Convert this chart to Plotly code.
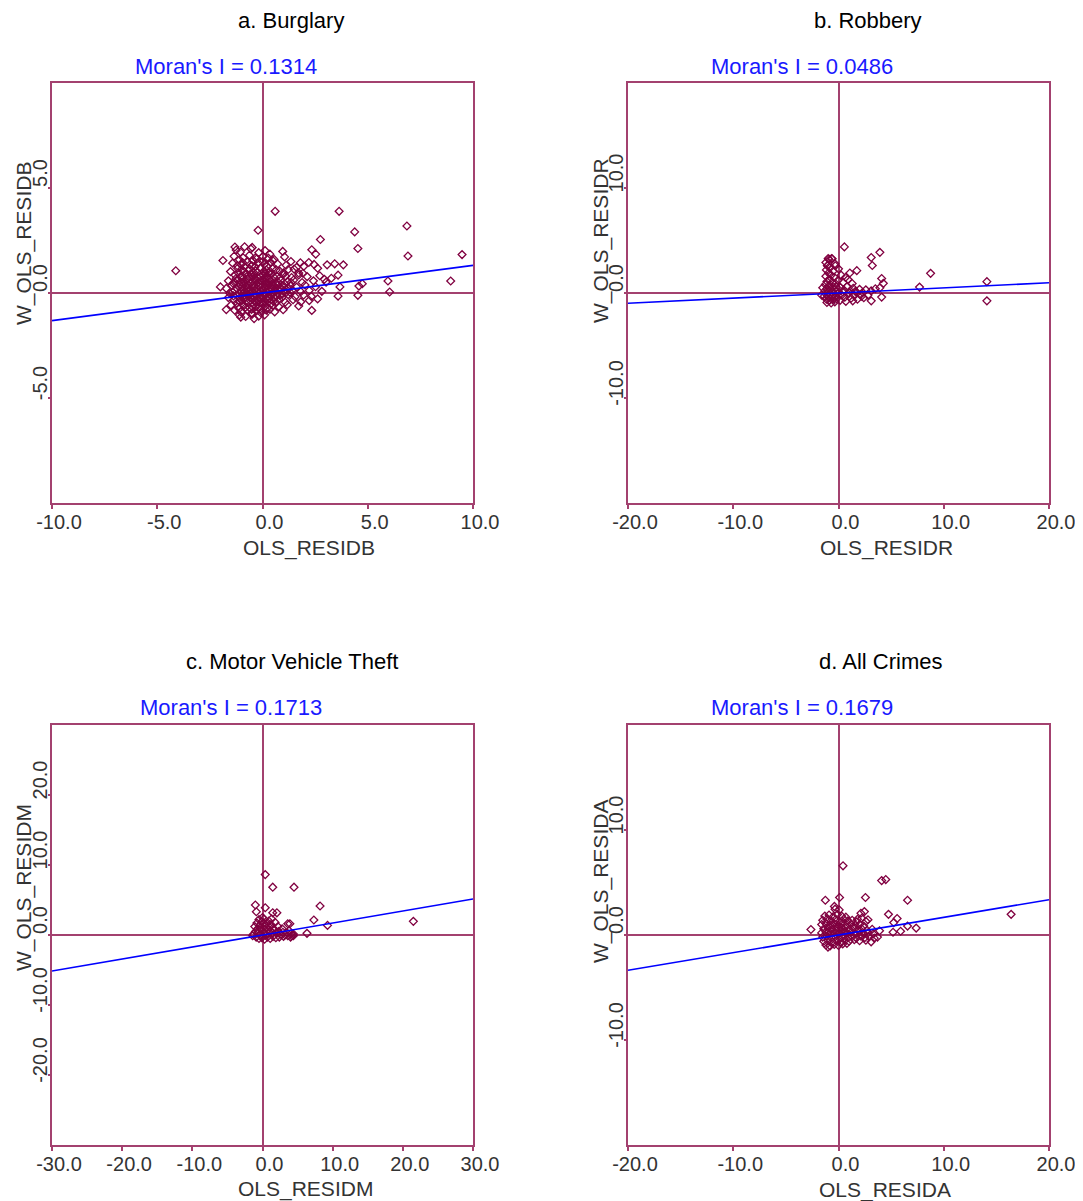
import plotly.graph_objects as go

# ---------------- data ----------------
panel_titles = ["a. Burglary", "b. Robbery", "c. Motor Vehicle Theft", "d. All Crimes"]
x_titles = ["OLS_RESIDB", "OLS_RESIDR", "OLS_RESIDM", "OLS_RESIDA"]
y_titles = ["W_OLS_RESIDB", "W_OLS_RESIDR", "W_OLS_RESIDM", "W_OLS_RESIDA"]
morans_i = [0.1314, 0.0486, 0.1713, 0.1679]
axis_limits = [10, 20, 30, 20]
x_tickvals = [[-10, -5, 0, 5, 10], [-20, -10, 0, 10, 20],
              [-30, -20, -10, 0, 10, 20, 30], [-20, -10, 0, 10, 20]]
y_tickvals = [[-5, 0, 5], [-10, 0, 10], [-20, -10, 0, 10, 20], [-10, 0, 10]]

burglary_pts = [
    # outliers
    (-4.12, 1.06), (0.60, 3.89), (3.64, 3.89), (-0.21, 2.99), (6.86, 3.19), (4.38, 2.91),
    (2.75, 2.55), (4.53, 2.12), (6.91, 1.76), (9.48, 1.83), (8.94, 0.57), (5.96, 0.57),
    (6.04, 0.05), (4.74, 0.44), (4.58, 0.33), (3.84, 1.34), (3.43, 1.39), (3.07, 1.34),
    (2.45, 1.36), (2.53, 1.85), (2.34, 2.06), (0.96, 1.98), (-1.88, 1.55), (-2.00, 0.29),
    (-1.31, 2.19), (-0.49, 2.17), (3.59, 0.85), (3.27, 0.70), (2.94, 0.65), (3.68, 0.29),
    (3.59, -0.15), (4.53, -0.11), (1.50, 1.14), (1.80, 1.44), (1.96, 1.27), (1.72, 0.95),
    (0.49, 1.55), (-0.33, 1.68), (2.34, -0.83), (-1.03, -1.15), (-1.72, -0.79),
    # cluster
    (-1.25, 2.05), (-1.05, 1.95), (-0.55, 2.10), (-0.18, 1.92), (0.12, 2.02), (-0.85, 2.20), (0.35, 1.85),
    (-1.35, 1.75), (-0.92, 1.68), (-0.62, 1.80), (-0.28, 1.62), (0.02, 1.74), (0.28, 1.66), (1.05, 1.72),
    (-1.10, 1.58), (-0.45, 1.55), (0.55, 1.60), (1.35, 1.50),
    (-1.42, 1.42), (-1.02, 1.35), (-0.72, 1.48), (-0.50, 1.30), (-0.22, 1.44), (0.08, 1.36), (0.38, 1.46),
    (0.72, 1.38), (1.12, 1.32), (2.20, 1.45), (-0.85, 1.25), (0.22, 1.28),
    (-1.18, 1.18), (-0.95, 1.08), (-0.62, 1.15), (-0.32, 1.05), (-0.08, 1.20), (0.18, 1.10), (0.48, 1.16),
    (0.82, 1.04), (1.22, 1.12), (1.62, 1.22), (2.62, 1.18), (-1.52, 1.02), (-0.42, 0.98), (0.30, 0.95), (1.00, 0.96),
    (-1.30, 0.85), (-1.05, 0.78), (-0.82, 0.90), (-0.62, 0.74), (-0.40, 0.86), (-0.20, 0.72), (0.02, 0.84),
    (0.22, 0.76), (0.42, 0.90), (0.68, 0.80), (0.98, 0.88), (1.38, 0.74), (1.72, 0.86), (2.12, 0.78),
    (2.72, 0.82), (1.92, 0.94), (-0.95, 0.66), (0.12, 0.92),
    (-1.62, 0.58), (-1.22, 0.62), (-1.00, 0.50), (-0.78, 0.60), (-0.58, 0.48), (-0.38, 0.62), (-0.18, 0.52),
    (0.00, 0.64), (0.20, 0.50), (0.40, 0.58), (0.60, 0.46), (0.88, 0.60), (1.18, 0.54), (1.48, 0.62),
    (1.88, 0.50), (2.42, 0.58), (3.02, 0.52), (-1.40, 0.46), (-0.68, 0.40),
    (-1.45, 0.36), (-1.12, 0.30), (-0.88, 0.40), (-0.68, 0.26), (-0.48, 0.36), (-0.28, 0.24), (-0.08, 0.38),
    (0.12, 0.28), (0.32, 0.40), (0.52, 0.30), (0.72, 0.38), (1.02, 0.26), (1.32, 0.36), (1.62, 0.28),
    (2.02, 0.38), (2.52, 0.30), (-1.72, 0.22), (-0.95, 0.18), (0.25, 0.18), (0.85, 0.20),
    (-1.32, 0.12), (-1.02, 0.06), (-0.78, 0.16), (-0.58, 0.02), (-0.38, 0.12), (-0.18, 0.00), (0.02, 0.14),
    (0.22, 0.04), (0.42, 0.16), (0.62, 0.06), (0.82, 0.12), (1.12, 0.02), (1.42, 0.14), (1.82, 0.06),
    (2.22, 0.12), (2.82, 0.08), (-1.55, -0.02), (0.95, -0.04),
    (-1.22, -0.10), (-0.92, -0.16), (-0.72, -0.06), (-0.52, -0.20), (-0.32, -0.08), (-0.12, -0.18),
    (0.08, -0.06), (0.28, -0.16), (0.48, -0.04), (0.68, -0.14), (0.92, -0.20), (1.22, -0.08),
    (1.55, -0.18), (1.95, -0.10), (2.32, -0.16), (-1.62, -0.22),
    (-1.35, -0.32), (-1.08, -0.42), (-0.88, -0.28), (-0.68, -0.46), (-0.48, -0.30), (-0.28, -0.44),
    (-0.08, -0.30), (0.12, -0.42), (0.32, -0.28), (0.52, -0.40), (0.78, -0.30), (1.08, -0.44),
    (1.45, -0.32), (1.82, -0.42), (2.22, -0.36), (2.62, -0.28), (-0.60, -0.22),
    (-1.50, -0.58), (-1.18, -0.66), (-0.92, -0.54), (-0.62, -0.70), (-0.42, -0.56), (-0.20, -0.68),
    (0.00, -0.54), (0.22, -0.72), (0.48, -0.60), (0.78, -0.66), (1.18, -0.56), (1.72, -0.62),
    (-1.32, -0.82), (-1.02, -0.90), (-0.72, -0.80), (-0.50, -0.96), (-0.28, -0.84), (-0.08, -0.94),
    (0.18, -0.82), (0.58, -0.90), (0.98, -0.80),
    (-1.10, -1.05), (-0.80, -1.12), (-0.50, -1.02), (-0.18, -1.10), (0.10, -1.04), (-0.40, -1.22),
    # dense core
    (-1.15, 0.95), (-0.88, 1.02), (-0.55, 0.92), (-0.25, 0.98), (0.05, 1.02), (0.35, 1.04), (0.65, 1.10),
    (-1.25, 0.70), (-0.98, 0.82), (-0.72, 0.68), (-0.48, 0.76), (-0.30, 0.64), (-0.10, 0.78), (0.10, 0.70),
    (0.32, 0.66), (0.55, 0.74), (0.80, 0.70), (1.10, 0.80),
    (-1.30, 0.48), (-1.08, 0.40), (-0.88, 0.52), (-0.48, 0.54), (-0.28, 0.44), (-0.08, 0.58), (0.10, 0.44),
    (0.30, 0.52), (0.50, 0.40), (0.75, 0.50), (1.05, 0.44), (1.35, 0.50),
    (-1.20, 0.20), (-0.98, 0.28), (-0.78, 0.32), (-0.58, 0.20), (-0.38, 0.30), (-0.18, 0.34), (0.02, 0.22),
    (0.18, 0.36), (0.42, 0.24), (0.62, 0.22), (0.92, 0.34), (1.22, 0.20),
    (-1.42, 0.04), (-1.12, -0.02), (-0.88, 0.00), (-0.68, 0.10), (-0.48, 0.06), (-0.28, 0.10), (-0.08, 0.04),
    (0.12, -0.02), (0.32, 0.10), (0.52, 0.02), (0.72, -0.02), (1.02, 0.10), (1.30, 0.04),
    (-1.38, -0.14), (-1.08, -0.22), (-0.82, -0.20), (-0.62, -0.12), (-0.42, -0.18), (-0.22, -0.26),
    (-0.02, -0.20), (0.18, -0.24), (0.38, -0.12), (0.58, -0.22), (0.82, -0.10),
    (-1.22, -0.48), (-0.98, -0.36), (-0.78, -0.40), (-0.58, -0.36), (-0.38, -0.40), (-0.18, -0.36),
    (0.02, -0.44), (0.22, -0.34), (0.42, -0.50), (0.65, -0.46),
    (-1.10, -0.74), (-0.80, -0.68), (-0.52, -0.78), (-0.32, -0.66), (-0.10, -0.76), (0.10, -0.64), (0.35, -0.78),
    (-0.95, 1.45), (-0.60, 1.35), (-0.35, 1.25), (0.00, 1.50), (-1.20, 1.30),
]

robbery_pts = [
    # outliers
    (0.56, 4.39), (3.93, 3.87), (3.11, 3.38), (3.21, 2.62), (1.74, 2.13), (1.08, 1.90),
    (8.75, 1.87), (14.1, 1.08), (14.1, -0.75), (7.70, 0.56), (4.10, 1.38), (4.26, 0.92),
    (3.93, 0.49), (3.11, -0.75), (4.10, -0.39), (-0.33, 2.79), (-0.98, 3.28), (-0.66, 3.28),
    (-1.05, 2.62), (0.66, 1.48),
    # cluster
    (-1.20, 2.90), (-0.90, 3.20), (-0.60, 3.25), (-1.05, 2.60), (-0.80, 2.40), (-1.15, 2.20),
    (-0.50, 2.10), (-0.95, 1.90), (-0.70, 1.70), (-1.20, 1.60), (-0.40, 1.50), (-0.85, 1.30),
    (-1.10, 1.10), (-0.60, 1.00), (-0.30, 0.90), (-1.25, 0.80), (-0.90, 0.70), (-0.50, 0.60),
    (-0.20, 0.55), (-1.10, 0.40), (-0.75, 0.35), (-0.40, 0.30), (-1.30, 0.20), (-0.95, 0.10),
    (-0.60, 0.05), (-0.25, 0.15), (-1.20, -0.10), (-0.80, -0.15), (-0.45, -0.10), (-0.10, -0.05),
    (-1.35, -0.30), (-1.00, -0.35), (-0.65, -0.40), (-0.30, -0.30), (-1.15, -0.60), (-0.85, -0.70),
    (-0.50, -0.60), (-0.20, -0.55), (-1.10, -0.90), (-0.70, -0.95), (-0.35, -0.85), (-1.60, -0.20),
    (-1.50, 0.50), (-0.05, 1.20), (0.00, 2.30), (-0.30, 2.60),
    (0.20, 0.50), (0.50, 0.30), (0.80, 0.60), (1.10, 0.20), (1.40, 0.45), (1.70, 0.10), (2.00, 0.35),
    (2.30, 0.05), (2.60, 0.30), (0.30, -0.20), (0.60, -0.40), (0.90, -0.10), (1.20, -0.50),
    (1.50, -0.25), (1.80, -0.60), (2.10, -0.15), (2.40, -0.45), (2.80, -0.20), (0.40, 0.10),
    (1.00, 0.00), (1.60, 0.15), (2.20, -0.30), (3.10, 0.20), (0.15, -0.70), (0.70, -0.80),
    (1.35, -0.75), (3.50, 0.40), (0.45, 1.00), (0.90, 1.30), (1.30, 0.90), (0.25, 1.70),
]

mvt_pts = [
    # outliers
    (0.39, 8.63), (1.46, 6.83), (4.49, 6.83), (-1.02, 4.29), (0.39, 3.90), (-0.88, 3.32),
    (1.46, 3.17), (2.05, 3.17), (8.20, 4.15), (7.32, 2.15), (21.5, 1.95), (9.27, 1.37),
    (3.90, 1.61), (6.34, 0.24), (4.40, 0.15), (4.15, -0.15),
    # cluster
    (-1.30, 0.10), (-1.00, 0.50), (-0.70, 0.90), (-0.40, 1.40), (-0.10, 1.90), (0.20, 2.30),
    (-0.50, 2.20), (0.00, 2.50), (-0.80, 1.70), (-1.10, 1.20), (-0.20, 0.80), (0.30, 1.20),
    (0.60, 1.60), (0.90, 2.00), (1.20, 1.50), (1.50, 1.00), (1.80, 1.80), (0.50, 0.50),
    (0.80, 0.20), (1.10, 0.60), (1.40, 0.30), (1.70, 0.70), (2.00, 0.20), (2.30, 0.50),
    (2.60, 0.10), (2.90, 0.40), (3.20, 0.00), (3.50, 0.30), (3.80, 0.60), (4.10, 0.20),
    (4.40, -0.10), (-0.90, -0.30), (-0.50, -0.50), (-0.10, -0.40), (0.30, -0.60), (0.70, -0.30),
    (1.10, -0.50), (1.50, -0.20), (1.90, -0.40), (2.40, -0.30), (3.00, -0.20), (3.60, -0.10),
    (4.00, -0.30), (-0.60, 0.30), (-0.30, 0.00), (0.10, 0.30), (0.40, 0.00), (-1.40, -0.10),
    (0.00, -0.20), (0.60, 1.00), (0.20, 1.70), (-0.30, 1.00), (1.00, 1.10), (2.20, 1.20),
    (1.30, 2.30), (3.60, 1.60), (2.80, 0.90),
]

allcrime_pts = [
    # outliers
    (0.43, 6.59), (4.10, 5.18), (4.49, 5.28), (2.56, 3.57), (6.56, 3.31), (0.10, 3.57),
    (-1.25, 3.31), (-0.39, 2.72), (-0.33, 2.46), (0.07, 2.39), (2.46, 2.23), (2.13, 2.07),
    (4.75, 1.97), (16.4, 1.97), (5.57, 1.57), (5.25, 1.18), (6.56, 0.85), (7.38, 0.66),
    (5.90, 0.36), (5.18, 0.26), (-2.62, 0.52), (2.80, 1.45), (1.80, 1.50), (3.90, 0.40),
    (3.70, -0.20),
    # cluster
    (-1.30, 1.80), (-0.90, 1.90), (-0.50, 1.75), (-0.10, 1.95), (0.30, 1.80), (0.70, 1.70),
    (2.20, 1.60),
    (-1.50, 1.40), (-1.10, 1.50), (-0.70, 1.35), (-0.30, 1.45), (0.10, 1.30), (0.50, 1.50),
    (0.90, 1.35), (1.30, 1.40), (1.70, 1.25), (2.60, 1.30),
    (-1.60, 1.00), (-1.20, 1.10), (-0.80, 0.95), (-0.40, 1.05), (0.00, 0.90), (0.40, 1.10),
    (0.80, 0.95), (1.20, 1.05), (1.60, 0.90), (2.00, 1.00), (2.40, 0.85),
    (-1.40, 0.60), (-1.00, 0.70), (-0.60, 0.55), (-0.20, 0.65), (0.20, 0.50), (0.60, 0.70),
    (1.00, 0.55), (1.40, 0.65), (1.80, 0.50), (2.20, 0.60), (2.70, 0.45), (3.20, 0.55),
    (-1.60, 0.20), (-1.20, 0.30), (-0.80, 0.15), (-0.40, 0.25), (0.00, 0.10), (0.40, 0.30),
    (0.80, 0.15), (1.20, 0.25), (1.60, 0.10), (2.00, 0.30), (2.40, 0.15), (2.80, 0.20), (3.30, 0.10),
    (-1.50, -0.20), (-1.10, -0.10), (-0.70, -0.25), (-0.30, -0.15), (0.10, -0.30), (0.50, -0.10),
    (0.90, -0.25), (1.30, -0.15), (1.70, -0.30), (2.10, -0.10), (2.50, -0.25), (2.90, -0.15), (3.40, -0.30),
    (-1.40, -0.60), (-1.00, -0.50), (-0.60, -0.65), (-0.20, -0.55), (0.20, -0.70), (0.60, -0.50),
    (1.00, -0.60), (1.50, -0.45), (2.00, -0.55), (2.60, -0.50), (3.10, -0.65),
    (-1.20, -0.95), (-0.80, -1.05), (-0.40, -0.90), (0.00, -1.00), (0.40, -0.85), (-1.00, -1.15),
    (0.80, -0.80), (-0.60, 0.95), (-0.95, 0.35), (0.25, 0.75), (-0.15, 0.40), (0.65, 0.35),
]

all_points = [burglary_pts, robbery_pts, mvt_pts, allcrime_pts]

# ---------------- styling ----------------
FRAME = "#a3416f"
POINT = "#800040"
LINE = "#0000ff"
FONT = "Liberation Sans, Arial, sans-serif"
PAGE_W, PAGE_H = 1083, 1201
OFF = 8                      # default page margin of the html body
W, H = PAGE_W - OFF, PAGE_H - OFF


def px(x):
    return (x - OFF) / W


def py(y):
    return 1 - (y - OFF) / H


# target page-pixel positions
boxes = [(52, 473, 83, 503), (628, 1049, 83, 503), (52, 473, 725, 1145), (628, 1049, 725, 1145)]
title_pos = [(291, 20), (868, 20), (292, 661), (880, 661)]
moran_pos = [(226, 66), (802, 66), (231, 707), (802, 707)]
xtitle_pos = [(309, 548), (886, 548), (305, 1189), (885, 1190)]
ytitle_pos = [(24, 244), (601, 240), (24, 888), (601, 881)]

fig = go.Figure()
layout = dict(
    width=W, height=H, margin=dict(l=0, r=0, t=0, b=0, autoexpand=False),
    paper_bgcolor="white", plot_bgcolor="white", showlegend=False,
    font=dict(family=FONT, color="#333333"),
)
annotations = []

for i in range(4):
    sfx = "" if i == 0 else str(i + 1)
    pts = all_points[i]
    xs = [p[0] for p in pts]
    ys = [p[1] for p in pts]
    lim = axis_limits[i]
    fig.add_trace(go.Scatter(
        x=xs, y=ys, mode="markers", xaxis="x" + sfx, yaxis="y" + sfx,
        marker=dict(symbol="diamond-open", size=6, color=POINT, line=dict(width=1.3, color=POINT)),
        hoverinfo="x+y",
    ))
    fig.add_trace(go.Scatter(
        x=[-lim, lim], y=[-lim * morans_i[i], lim * morans_i[i]], mode="lines",
        xaxis="x" + sfx, yaxis="y" + sfx,
        line=dict(color=LINE, width=1.6), hoverinfo="skip",
    ))
    l, r, t, b = boxes[i]
    layout["xaxis" + sfx] = dict(
        domain=[px(l), px(r)], anchor="y" + sfx, range=[-lim, lim], automargin=False,
        tickvals=x_tickvals[i], ticktext=[f"{v:.1f}" for v in x_tickvals[i]],
        ticks="outside", ticklen=4,
        tickcolor=FRAME, tickwidth=1.5, showgrid=False,
        showline=True, linecolor=FRAME, linewidth=1.5, mirror=True,
        zeroline=True, zerolinecolor=FRAME, zerolinewidth=1.5,
        tickfont=dict(size=20, color="#333333", family=FONT), ticklabelshift=7,
        ticklabelstandoff=-4,
        fixedrange=True,
    )
    layout["yaxis" + sfx] = dict(
        domain=[py(b), py(t)], anchor="x" + sfx, range=[-lim, lim], automargin=False,
        tickvals=y_tickvals[i], ticktext=[f"{v:.1f}" for v in y_tickvals[i]],
        ticks="outside", ticklen=2,
        tickcolor=FRAME, tickwidth=1.5, showgrid=False,
        showline=True, linecolor=FRAME, linewidth=1.5, mirror=True,
        zeroline=True, zerolinecolor=FRAME, zerolinewidth=1.5,
        tickangle=-90, tickfont=dict(size=20, color="#333333", family=FONT),
        ticklabelshift=-12, ticklabelstandoff=-7,
        fixedrange=True,
    )
    tx, ty = title_pos[i]
    annotations.append(dict(text=panel_titles[i], x=px(tx), y=py(ty), xref="paper", yref="paper",
                            showarrow=False, xanchor="center", yanchor="middle",
                            font=dict(size=22, color="black", family=FONT)))
    mx, my = moran_pos[i]
    annotations.append(dict(text=f"Moran's I = {morans_i[i]:.4f}", x=px(mx), y=py(my),
                            xref="paper", yref="paper", showarrow=False,
                            xanchor="center", yanchor="middle",
                            font=dict(size=22, color="#1a1aff", family=FONT)))
    xx, xy = xtitle_pos[i]
    annotations.append(dict(text=x_titles[i], x=px(xx), y=py(xy), xref="paper", yref="paper",
                            showarrow=False, xanchor="center", yanchor="middle",
                            font=dict(size=21, color="#333333", family=FONT)))
    yx, yy = ytitle_pos[i]
    annotations.append(dict(text=y_titles[i], x=px(yx), y=py(yy), xref="paper", yref="paper",
                            showarrow=False, xanchor="center", yanchor="middle", textangle=-90,
                            font=dict(size=21, color="#333333", family=FONT)))

layout["annotations"] = annotations
fig.update_layout(**layout)
fig.write_html("out.html")
